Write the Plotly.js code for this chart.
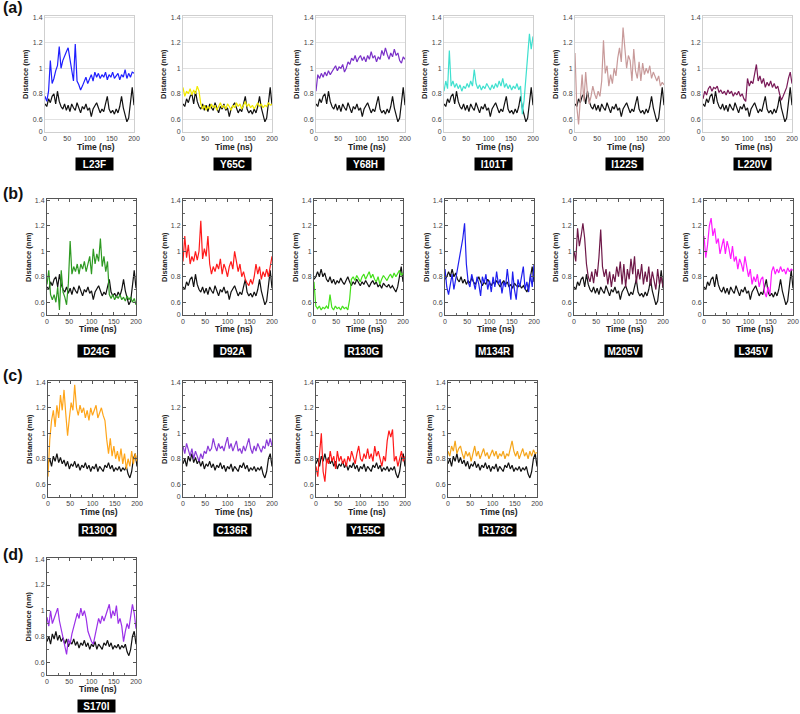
<!DOCTYPE html>
<html>
<head>
<meta charset="utf-8">
<script src="https://cdn.plot.ly/plotly-3.0.1.min.js"></script>
<style>html,body{margin:0;padding:0;background:#fff;}#chart{width:800px;height:714px;}</style>
</head>
<body>
<div id="chart"></div>
<script>
// ---------- DATA ----------
const time = [0,4,8,12,16,20,24,28,32,36,40,44,48,52,56,60,64,68,72,76,80,84,88,92,96,100,104,108,112,116,120,124,128,132,136,140,144,148,152,156,160,164,168,172,176,180,184,188,192,196,200];

// reference (wild-type) traces
const wtA = [0.72,0.70,0.76,0.73,0.78,0.80,0.72,0.82,0.74,0.70,0.68,0.72,0.67,0.71,0.66,0.72,0.69,0.67,0.73,0.68,0.65,0.70,0.68,0.72,0.67,0.69,0.62,0.68,0.71,0.73,0.69,0.65,0.68,0.66,0.72,0.78,0.68,0.65,0.67,0.64,0.68,0.65,0.70,0.78,0.69,0.63,0.58,0.61,0.76,0.85,0.71];
const wtB = [0.78,0.80,0.84,0.80,0.86,0.80,0.83,0.78,0.76,0.80,0.75,0.78,0.74,0.77,0.75,0.79,0.76,0.74,0.77,0.80,0.76,0.73,0.76,0.74,0.78,0.75,0.73,0.76,0.74,0.77,0.75,0.72,0.75,0.77,0.74,0.76,0.72,0.74,0.71,0.75,0.73,0.72,0.74,0.71,0.73,0.70,0.68,0.72,0.80,0.88,0.76];
const wtC = [0.76,0.80,0.74,0.82,0.78,0.84,0.77,0.81,0.76,0.79,0.74,0.78,0.72,0.76,0.74,0.78,0.73,0.76,0.71,0.75,0.73,0.77,0.72,0.75,0.70,0.74,0.72,0.76,0.70,0.74,0.72,0.70,0.75,0.73,0.77,0.72,0.75,0.70,0.73,0.71,0.74,0.70,0.73,0.71,0.74,0.68,0.65,0.70,0.80,0.84,0.74];

// mutant traces
const L23F = [0.78,0.74,0.82,1.06,0.88,0.92,0.98,1.02,1.17,1.00,1.06,1.10,1.13,1.16,1.08,0.97,0.90,1.19,0.90,0.87,0.83,0.86,0.89,0.93,0.88,0.92,0.95,0.90,0.97,0.93,0.96,0.92,0.95,0.93,0.97,0.91,0.95,0.93,0.97,0.92,0.94,0.96,0.91,0.95,0.93,0.99,0.92,0.96,0.93,0.97,0.96];
const Y65C = [0.85,0.78,0.82,0.80,0.84,0.79,0.83,0.80,0.86,0.82,0.72,0.68,0.71,0.67,0.70,0.68,0.72,0.69,0.71,0.67,0.70,0.73,0.69,0.71,0.68,0.72,0.70,0.67,0.71,0.69,0.73,0.70,0.72,0.68,0.71,0.74,0.70,0.72,0.69,0.71,0.68,0.70,0.73,0.70,0.72,0.69,0.71,0.70,0.73,0.71,0.72];
const Y68H = [0.82,0.95,0.92,0.96,0.93,0.97,0.94,0.98,0.95,0.97,0.99,1.02,0.98,1.01,1.00,1.03,0.97,1.00,1.05,1.03,1.08,1.06,1.10,1.05,1.08,1.10,1.06,1.09,1.05,1.10,1.07,1.13,1.08,1.10,1.05,1.09,1.07,1.14,1.10,1.16,1.11,1.07,1.12,1.09,1.15,1.10,1.12,1.06,1.04,1.09,1.07];
const I101T = [0.82,0.90,0.84,1.14,0.86,0.90,0.85,0.88,0.84,0.87,0.82,0.86,0.84,0.88,0.85,0.90,0.86,0.99,0.88,0.84,0.87,0.83,0.86,0.84,0.88,0.85,0.83,0.87,0.84,0.88,0.85,0.90,0.86,0.92,0.85,0.88,0.84,0.87,0.83,0.86,0.84,0.88,0.83,0.86,0.64,0.75,0.95,1.10,1.27,1.15,1.25];
const I122S = [1.12,0.70,0.56,0.78,0.95,0.74,0.97,0.80,0.72,0.78,0.86,0.80,0.76,0.82,0.78,0.90,1.22,0.96,1.02,0.86,0.95,0.88,1.00,0.94,1.08,1.16,1.05,1.32,1.18,1.00,1.10,1.06,0.90,1.15,0.98,0.92,1.05,0.90,1.04,0.95,1.00,0.96,1.02,0.92,0.97,0.93,0.90,0.94,0.86,0.89,0.87];
const L220V = [0.76,0.82,0.79,0.84,0.86,0.82,0.85,0.84,0.86,0.81,0.83,0.80,0.82,0.79,0.83,0.80,0.82,0.78,0.81,0.79,0.82,0.78,0.80,0.76,0.74,0.92,0.86,0.90,0.88,0.95,1.03,0.90,0.94,0.88,0.92,0.85,0.89,0.86,0.90,0.85,0.88,0.84,0.86,0.80,0.75,0.78,0.82,0.85,0.92,0.97,0.88];
const D24G = [0.74,0.85,0.66,0.62,0.66,0.60,0.72,0.54,0.85,0.68,0.64,0.58,0.75,1.08,0.82,0.88,0.84,0.90,0.82,0.90,0.86,0.92,0.84,0.90,0.96,0.82,1.02,0.90,0.98,0.92,1.10,0.88,0.96,0.84,0.92,0.66,0.63,0.66,0.62,0.65,0.63,0.66,0.62,0.64,0.61,0.65,0.62,0.64,0.60,0.63,0.58];
const D92A = [0.92,1.12,0.95,1.05,0.90,0.96,0.92,1.00,0.93,1.00,1.24,0.94,1.02,0.96,1.12,0.90,0.82,0.88,0.84,0.90,0.86,0.94,0.82,0.90,0.86,0.80,0.88,0.92,0.86,1.00,0.92,0.84,0.90,0.80,0.84,0.78,0.75,0.73,0.78,0.74,0.80,0.90,0.82,0.88,0.78,0.84,0.80,0.86,0.80,0.90,0.96];
const R130G = [0.76,0.57,0.55,0.57,0.54,0.56,0.55,0.57,0.55,0.66,0.56,0.54,0.57,0.55,0.56,0.54,0.57,0.55,0.56,0.54,0.62,0.78,0.80,0.77,0.81,0.79,0.76,0.80,0.82,0.78,0.81,0.84,0.79,0.82,0.78,0.76,0.80,0.74,0.78,0.81,0.79,0.77,0.80,0.82,0.79,0.83,0.80,0.82,0.85,0.81,0.83];
const M134R = [0.86,0.72,0.66,0.76,0.82,0.70,0.78,0.86,0.95,1.02,1.10,1.22,0.90,0.76,0.72,0.82,0.76,0.70,0.80,0.74,0.65,0.80,0.75,0.82,0.70,0.77,0.68,0.80,0.72,0.84,0.74,0.78,0.67,0.76,0.72,0.86,0.74,0.62,0.84,0.70,0.62,0.78,0.72,0.80,0.88,0.70,0.76,0.68,0.82,0.72,0.90];
const M205V = [1.00,0.92,1.18,1.04,1.12,1.22,1.10,0.90,0.80,0.76,0.84,0.75,0.86,0.80,0.95,1.17,0.88,0.80,0.86,0.74,0.84,0.72,0.82,0.76,0.88,0.80,0.92,0.74,0.90,0.72,0.86,0.78,0.94,0.82,0.96,0.75,0.86,0.78,0.90,0.74,0.84,0.76,0.88,0.73,0.84,0.76,0.70,0.86,0.74,0.80,0.72];
const L345V = [1.12,0.95,1.05,1.20,1.26,1.12,1.18,1.06,1.10,0.98,1.04,1.10,0.98,1.08,1.02,0.94,1.04,0.92,0.96,0.86,0.94,0.90,0.84,0.96,0.88,0.80,0.86,0.74,0.80,0.76,0.82,0.72,0.78,0.80,0.68,0.64,0.72,0.66,0.84,0.88,0.82,0.86,0.83,0.88,0.84,0.86,0.82,0.87,0.84,0.86,0.85];
const R130Q = [0.66,0.95,1.10,1.18,1.05,1.22,1.12,1.30,1.18,1.34,1.15,0.98,1.12,1.24,1.18,1.38,1.20,1.14,1.22,1.16,1.20,1.12,1.18,1.10,1.20,1.14,1.18,1.22,1.12,1.16,1.20,1.14,1.10,0.95,0.84,0.96,0.82,0.90,0.80,0.86,0.78,0.88,0.76,0.84,0.72,0.80,0.74,0.86,0.76,0.84,0.78];
const C136R = [0.90,0.84,0.92,0.86,0.82,0.88,0.80,0.86,0.82,0.78,0.84,0.80,0.86,0.84,0.90,0.86,0.88,0.96,0.90,0.86,0.92,0.88,0.90,0.86,0.92,0.97,0.88,0.92,0.86,0.90,0.94,0.86,0.88,0.84,0.90,0.86,0.92,0.96,0.88,0.84,0.90,0.86,0.92,0.88,0.85,0.90,0.88,0.95,0.90,0.96,0.90];
const Y155C = [0.74,0.66,0.84,1.00,0.70,0.62,0.80,0.76,0.86,0.78,0.82,0.72,0.86,0.78,0.82,0.76,0.80,0.74,0.82,0.78,0.86,0.80,0.76,0.84,0.90,0.80,0.78,0.84,0.80,0.88,0.80,0.84,0.78,0.90,0.82,0.86,0.80,0.74,0.82,0.78,0.94,1.02,0.97,1.03,0.78,0.82,0.74,0.80,0.86,0.78,0.82];
const R173C = [0.86,0.82,0.90,0.86,0.94,0.84,0.88,0.90,0.84,0.80,0.86,0.82,0.85,0.78,0.84,0.90,0.82,0.86,0.80,0.84,0.88,0.82,0.85,0.80,0.84,0.87,0.82,0.86,0.80,0.84,0.82,0.86,0.80,0.84,0.82,0.88,0.94,0.86,0.82,0.86,0.80,0.84,0.88,0.82,0.85,0.80,0.86,0.82,0.87,0.84,0.85];
const S170I = [0.95,0.88,1.00,0.90,0.94,0.98,1.02,0.92,0.86,0.80,0.72,0.66,0.78,0.74,0.82,0.88,0.92,0.98,0.94,1.02,0.96,1.00,0.94,0.84,0.80,0.76,0.74,0.80,0.86,0.94,0.90,0.96,0.92,0.96,1.00,1.05,0.94,1.00,0.96,1.04,0.90,0.94,0.88,0.76,0.84,0.90,0.86,0.94,1.05,0.98,0.86];

const xTickVals = [0,50,100,150,200];
const yTickVals = [0.5,0.6,0.8,1.0,1.2,1.4];
const yTickText = ['0','0.6','0.8','1','1.2','1.4'];

// ---------- LAYOUT CONFIG ----------
const W = 800, H = 714, PW = 89;
const rows = [
  {top:16,  bottom:132, style:'grid', titleY:147, boxY:164, letter:'(a)', letterY:8},
  {top:199, bottom:315, style:'box',  titleY:329, boxY:351, letter:'(b)', letterY:194},
  {top:381, bottom:497, style:'box',  titleY:512, boxY:530, letter:'(c)', letterY:375},
  {top:558, bottom:675, style:'box',  titleY:689, boxY:706, letter:'(d)', letterY:554}
];
const panels = [
  {name:'L23F',  mut:L23F,  ref:wtA, color:'#1f1fff', row:0, left:45},
  {name:'Y65C',  mut:Y65C,  ref:wtA, color:'#f2ea00', row:0, left:183},
  {name:'Y68H',  mut:Y68H,  ref:wtA, color:'#7a30c8', row:0, left:316},
  {name:'I101T', mut:I101T, ref:wtA, color:'#3fe0cf', row:0, left:444},
  {name:'I122S', mut:I122S, ref:wtA, color:'#c89a9a', row:0, left:575},
  {name:'L220V', mut:L220V, ref:wtA, color:'#7a1a58', row:0, left:703},
  {name:'D24G',  mut:D24G,  ref:wtA, color:'#2e9a22', row:1, left:47},
  {name:'D92A',  mut:D92A,  ref:wtA, color:'#ff1a1a', row:1, left:183},
  {name:'R130G', mut:R130G, ref:wtB, color:'#44e01a', row:1, left:314},
  {name:'M134R', mut:M134R, ref:wtB, color:'#1f1fee', row:1, left:445},
  {name:'M205V', mut:M205V, ref:wtA, color:'#6e1848', row:1, left:574},
  {name:'L345V', mut:L345V, ref:wtA, color:'#ff1aff', row:1, left:704},
  {name:'R130Q', mut:R130Q, ref:wtC, color:'#ffa51a', row:2, left:48},
  {name:'C136R', mut:C136R, ref:wtC, color:'#8a3ad8', row:2, left:183},
  {name:'Y155C', mut:Y155C, ref:wtC, color:'#ff1a1a', row:2, left:316},
  {name:'R173C', mut:R173C, ref:wtC, color:'#f5a51a', row:2, left:448},
  {name:'S170I', mut:S170I, ref:wtC, color:'#9b30e8', row:3, left:47}
];

const FONT = 'Liberation Sans, Arial, sans-serif';
const traces = [];
const layout = {
  width: W, height: H,
  margin: {l:0, r:0, t:0, b:0},
  paper_bgcolor: '#fff', plot_bgcolor: '#fff',
  showlegend: false,
  font: {family: FONT, color: '#222'},
  annotations: []
};

rows.forEach(r => {
  layout.annotations.push({text:'<b>'+r.letter+'</b>', xref:'paper', yref:'paper',
    x: 1/W, y: 1 - r.letterY/H, xanchor:'left', yanchor:'middle', showarrow:false,
    font:{size:16, color:'#111', family:FONT}});
});

panels.forEach((p, i) => {
  const n = i + 1;
  const r = rows[p.row];
  const xa = 'x' + n, ya = 'y' + n;
  traces.push({x: time, y: p.ref, xaxis: xa, yaxis: ya, mode: 'lines',
    line: {color: '#111', width: 1.2}, hoverinfo: 'skip'});
  traces.push({x: time, y: p.mut, xaxis: xa, yaxis: ya, mode: 'lines',
    line: {color: p.color, width: 1.2}, hoverinfo: 'skip'});

  const isGrid = r.style === 'grid';
  const common = {
    showline: true, linewidth: 1, zeroline: false, fixedrange: true,
    tickfont: {size: 7, color: '#444', family: FONT}
  };
  const xax = Object.assign({}, common, {
    domain: [p.left / W, (p.left + PW) / W], anchor: ya, range: [0, 200],
    tickmode: 'array', tickvals: xTickVals, showgrid: false
  });
  const yax = Object.assign({}, common, {
    domain: [1 - r.bottom / H, 1 - r.top / H], anchor: xa, range: [0.5, 1.41],
    tickmode: 'array', tickvals: yTickVals, ticktext: yTickText
  });
  if (isGrid) {
    Object.assign(xax, {linecolor: '#cfcfcf', mirror: true, ticks: ''});
    Object.assign(yax, {linecolor: '#cfcfcf', mirror: true, ticks: '', showgrid: true, gridcolor: '#e2e2e2', gridwidth: 1});
  } else {
    Object.assign(xax, {linecolor: '#555', mirror: 'ticks', ticks: 'inside', ticklen: 3, tickcolor: '#555',
      minor: {ticks: 'inside', ticklen: 2, tickcolor: '#666', dtick: 25, tick0: 0, showgrid: false}});
    Object.assign(yax, {linecolor: '#555', mirror: 'ticks', ticks: 'inside', ticklen: 3, tickcolor: '#555', showgrid: false,
      minor: {ticks: 'inside', ticklen: 2, tickcolor: '#666', dtick: 0.1, tick0: 0.5, showgrid: false}});
  }
  layout['xaxis' + n] = xax;
  layout['yaxis' + n] = yax;

  const cx = p.left + PW / 2;
  // y-axis title
  layout.annotations.push({text: '<b>Distance (nm)</b>', xref: 'paper', yref: 'paper',
    x: (p.left - 19) / W, y: 1 - ((r.top + r.bottom) / 2) / H, textangle: -90,
    xanchor: 'center', yanchor: 'middle', showarrow: false,
    font: {size: 7.5, color: '#222', family: FONT}});
  // x-axis title
  layout.annotations.push({text: '<b>Time (ns)</b>', xref: 'paper', yref: 'paper',
    x: (cx + 6) / W, y: 1 - r.titleY / H, xanchor: 'center', yanchor: 'middle', showarrow: false,
    font: {size: 8.5, color: '#222', family: FONT}});
  // mutation label box
  layout.annotations.push({text: '<b>' + p.name + '</b>', xref: 'paper', yref: 'paper',
    x: (cx + 5) / W, y: 1 - r.boxY / H, xanchor: 'center', yanchor: 'middle', showarrow: false,
    width: 35, height: 10, borderpad: 1, bgcolor: '#000',
    font: {size: 10, color: '#fff', family: FONT}});
});

Plotly.newPlot('chart', traces, layout, {staticPlot: true, displayModeBar: false});
</script>
</body>
</html>
